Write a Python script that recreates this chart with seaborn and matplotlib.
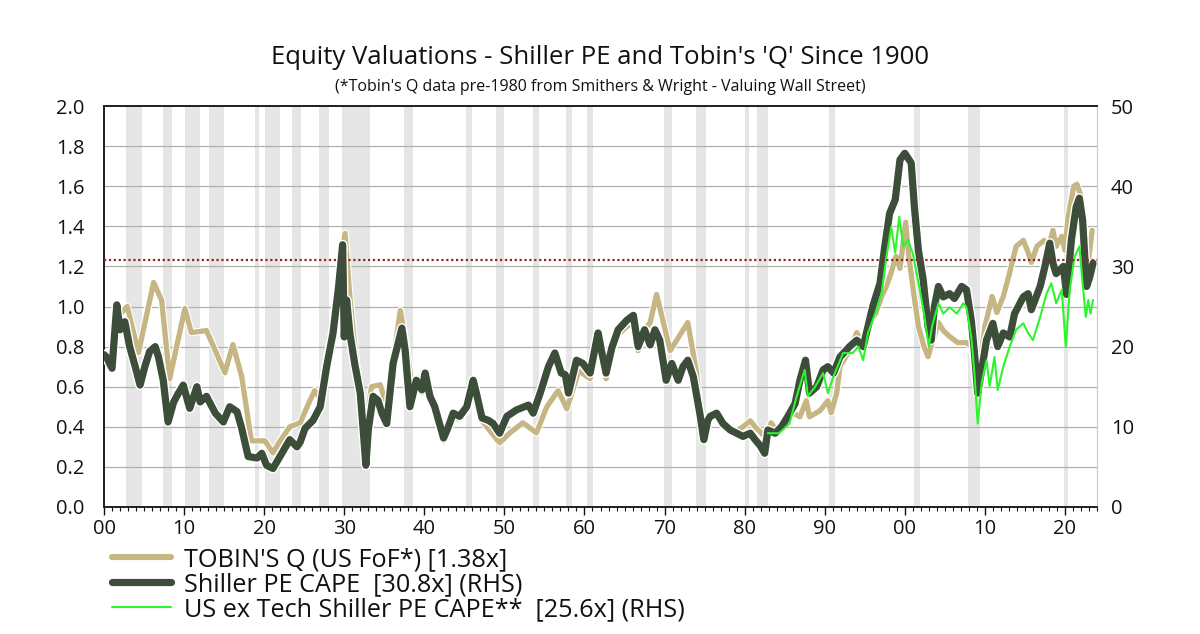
import numpy as np
import pandas as pd
import matplotlib
matplotlib.use("Agg")
import matplotlib.pyplot as plt
import matplotlib.patheffects as pe
from matplotlib.lines import Line2D
import seaborn as sns

# ---------------- data ----------------
cape_years = [1900.0, 1900.3, 1901.0, 1901.6, 1902.0, 1902.6, 1903.2, 1903.9, 1904.5, 1905.1,
              1905.7, 1906.4, 1906.8, 1907.4, 1908.0, 1908.7, 1909.3, 1909.9, 1910.7, 1911.6,
              1912.0, 1912.8, 1913.9, 1914.9, 1915.7, 1916.6, 1917.2, 1918.0, 1919.1, 1919.7,
              1920.3, 1921.1, 1922.2, 1923.2, 1924.1, 1924.5, 1925.1, 1926.1, 1927.0, 1927.8,
              1928.6, 1929.3, 1929.8, 1930.0, 1930.3, 1930.7, 1931.3, 1932.0, 1932.4, 1932.7,
              1933.0, 1933.6, 1934.2, 1934.7, 1935.3, 1936.1, 1937.2, 1937.6, 1938.2, 1939.0,
              1939.7, 1940.1, 1940.7, 1941.3, 1941.9, 1942.4, 1943.0, 1943.6, 1944.4, 1945.3,
              1946.1, 1946.5, 1947.2, 1948.0, 1948.6, 1949.4, 1950.3, 1951.5, 1953.0, 1953.6,
              1954.6, 1955.5, 1956.3, 1957.1, 1957.6, 1958.0, 1959.0, 1959.8, 1960.7, 1961.7,
              1962.1, 1962.7, 1963.4, 1964.2, 1965.3, 1966.1, 1966.7, 1967.5, 1968.2, 1968.8,
              1969.4, 1970.2, 1970.9, 1971.7, 1972.3, 1972.9, 1973.6, 1974.4, 1974.9, 1975.4,
              1975.7, 1976.5, 1977.3, 1978.2, 1979.0, 1979.8, 1980.7, 1981.3, 1981.9, 1982.5,
              1982.9, 1983.8, 1984.6, 1985.4, 1986.3, 1986.9, 1987.6, 1988.1, 1989.0, 1989.8,
              1990.4, 1991.1, 1991.9, 1993.1, 1994.0, 1994.8, 1995.4, 1996.0, 1996.9, 1997.5,
              1998.1, 1998.8, 1999.4, 2000.0, 2000.8, 2001.2, 2001.7, 2002.3, 2002.9, 2003.3,
              2003.7, 2004.2, 2004.8, 2005.6, 2006.2, 2007.1, 2007.7, 2008.3, 2008.7, 2009.1,
              2009.6, 2010.2, 2011.0, 2011.6, 2012.3, 2013.1, 2013.7, 2014.8, 2015.4, 2015.8,
              2016.9, 2017.5, 2018.1, 2018.5, 2018.9, 2019.8, 2020.2, 2020.8, 2021.4, 2021.8,
              2022.2, 2022.7, 2023.1, 2023.5]
cape_values = [19.0, 18.7, 17.3, 25.2, 22.1, 23.1, 20.0, 17.5, 15.2, 17.5,
               19.4, 20.0, 18.7, 15.8, 10.6, 13.1, 14.2, 15.2, 12.3, 15.0,
               13.1, 13.8, 11.7, 10.6, 12.5, 11.9, 9.8, 6.3, 6.1, 6.7,
               5.2, 4.8, 6.7, 8.4, 7.5, 8.1, 9.8, 10.8, 12.5, 17.5,
               21.7, 27.5, 32.7, 21.2, 25.8, 21.7, 17.9, 14.2, 9.2, 5.2,
               9.6, 13.8, 13.3, 11.7, 10.4, 17.9, 22.3, 19.6, 12.5, 15.8,
               14.6, 16.7, 13.8, 12.5, 10.4, 8.6, 10.0, 11.7, 11.3, 12.5,
               15.8, 14.2, 11.1, 10.8, 10.4, 9.2, 11.3, 12.1, 12.7, 11.7,
               14.6, 17.5, 19.2, 16.7, 16.5, 14.2, 18.3, 17.9, 16.7, 21.7,
               19.6, 16.7, 19.8, 22.1, 23.3, 23.9, 20.0, 22.1, 20.2, 22.1,
               20.8, 15.8, 17.9, 15.8, 17.5, 18.3, 16.2, 11.7, 8.4, 10.8,
               11.3, 11.7, 10.4, 9.6, 9.2, 8.8, 9.2, 8.4, 7.7, 6.7,
               9.6, 9.2, 10.0, 11.3, 12.9, 15.8, 18.3, 14.2, 15.0, 17.1,
               17.5, 16.7, 18.7, 20.0, 20.8, 20.0, 22.5, 25.0, 27.9, 32.5,
               36.6, 38.3, 43.3, 44.1, 42.9, 37.4, 32.0, 28.3, 22.5, 20.8,
               25.0, 27.5, 26.2, 26.6, 26.0, 27.5, 27.1, 23.3, 19.2, 14.2,
               17.1, 20.8, 22.9, 20.0, 21.7, 21.2, 24.1, 26.2, 26.6, 24.6,
               27.5, 30.0, 32.9, 30.4, 29.1, 30.0, 26.5, 33.3, 37.4, 38.5,
               35.8, 27.5, 28.7, 30.4]

tobin_years = [1902.2, 1902.9, 1904.3, 1906.2, 1907.2, 1908.2, 1910.1, 1910.9, 1912.8, 1915.1,
               1916.1, 1917.2, 1918.4, 1920.1, 1921.1, 1922.0, 1923.2, 1924.5, 1925.7, 1926.3,
               1927.0, 1927.8, 1928.6, 1929.3, 1930.1, 1930.7, 1931.5, 1932.4, 1932.7, 1933.4,
               1934.5, 1935.3, 1937.0, 1937.8, 1938.4, 1939.0, 1939.7, 1940.1, 1940.7, 1941.3,
               1942.4, 1943.6, 1944.4, 1945.3, 1946.1, 1947.2, 1948.2, 1949.4, 1950.7, 1952.3,
               1954.0, 1955.3, 1956.7, 1957.8, 1959.3, 1960.7, 1961.7, 1962.7, 1963.4, 1964.2,
               1965.3, 1966.1, 1966.7, 1967.5, 1968.2, 1969.0, 1970.7, 1972.9, 1974.0, 1974.6,
               1975.4, 1975.7, 1976.5, 1977.3, 1978.2, 1979.0, 1979.8, 1980.7, 1981.3, 1982.3,
               1982.8, 1983.3, 1984.0, 1985.0, 1986.0, 1986.9, 1987.7, 1988.1, 1989.4, 1990.4,
               1990.8, 1991.5, 1991.9, 1993.1, 1994.0, 1994.8, 1995.8, 1996.4, 1997.1, 1997.7,
               1998.3, 1998.9, 1999.4, 2000.1, 2000.5, 2001.1, 2001.7, 2002.4, 2002.9, 2003.5,
               2004.2, 2004.8, 2005.6, 2006.6, 2007.7, 2008.3, 2009.1, 2010.0, 2010.9, 2011.5,
               2012.3, 2013.1, 2013.9, 2014.8, 2015.4, 2015.8, 2016.5, 2017.4, 2018.0, 2018.5,
               2018.9, 2019.6, 2020.0, 2020.4, 2021.1, 2021.5, 2022.0, 2022.4, 2022.7, 2023.0,
               2023.4]
tobin_values = [0.97, 1.00, 0.77, 1.12, 1.03, 0.64, 0.99, 0.87, 0.88, 0.67,
                0.81, 0.65, 0.33, 0.33, 0.27, 0.33, 0.40, 0.42, 0.53, 0.58,
                0.54, 0.74, 0.90, 1.15, 1.365, 1.05, 0.73, 0.43, 0.40, 0.60,
                0.61, 0.50, 0.98, 0.80, 0.62, 0.60, 0.57, 0.62, 0.54, 0.48,
                0.33, 0.44, 0.44, 0.48, 0.60, 0.43, 0.38, 0.32, 0.37, 0.42,
                0.37, 0.50, 0.58, 0.49, 0.68, 0.64, 0.84, 0.64, 0.76, 0.86,
                0.90, 0.93, 0.78, 0.88, 0.92, 1.06, 0.78, 0.92, 0.67, 0.40,
                0.42, 0.45, 0.47, 0.42, 0.38, 0.38, 0.40, 0.43, 0.40, 0.36,
                0.34, 0.42, 0.38, 0.42, 0.47, 0.45, 0.53, 0.45, 0.48, 0.53,
                0.47, 0.57, 0.70, 0.78, 0.87, 0.80, 0.93, 0.97, 1.05, 1.10,
                1.17, 1.25, 1.19, 1.42, 1.25, 1.07, 0.90, 0.80, 0.75, 0.83,
                0.92, 0.88, 0.85, 0.82, 0.82, 0.80, 0.62, 0.90, 1.05, 0.97,
                1.05, 1.17, 1.30, 1.33, 1.27, 1.22, 1.30, 1.33, 1.30, 1.38,
                1.30, 1.35, 1.28, 1.45, 1.60, 1.61, 1.55, 1.33, 1.10, 1.25,
                1.38]

extech_years = [1982.9, 1984.3, 1985.6, 1986.5, 1987.5, 1987.9, 1988.8, 1989.8, 1990.4, 1991.1,
                1992.3, 1993.5, 1994.2, 1994.8, 1995.4, 1996.3, 1997.1, 1997.7, 1998.3, 1998.8,
                1999.3, 1999.8, 2000.4, 2001.0, 2001.8, 2002.4, 2003.0, 2003.4, 2004.2, 2004.8,
                2005.6, 2006.5, 2007.3, 2007.7, 2008.3, 2008.7, 2009.1, 2009.6, 2010.2, 2010.6,
                2011.2, 2011.6, 2012.3, 2013.1, 2013.9, 2014.8, 2015.4, 2016.0, 2016.9, 2017.7,
                2018.3, 2018.9, 2019.6, 2020.1, 2020.6, 2021.2, 2021.8, 2022.2, 2022.6, 2022.9,
                2023.2, 2023.5]
extech_values = [9.2, 9.2, 10.4, 13.8, 17.1, 13.8, 15.0, 16.7, 14.2, 16.3,
                 19.2, 19.2, 20.0, 18.3, 21.7, 24.1, 26.6, 31.2, 34.9, 31.7,
                 36.2, 32.5, 33.3, 31.6, 27.5, 24.1, 20.0, 22.5, 25.4, 24.1,
                 24.9, 24.1, 25.4, 24.9, 21.2, 16.6, 10.4, 15.5, 18.3, 15.1,
                 18.7, 14.6, 17.5, 20.0, 22.1, 22.9, 21.7, 20.8, 23.7, 26.6,
                 27.9, 25.4, 27.1, 20.0, 27.1, 31.2, 32.5, 27.9, 23.7, 25.8,
                 24.1, 25.8]

recession_start = [1902.75, 1907.4, 1910.1, 1913.1, 1918.8, 1920.1, 1923.5, 1926.8, 1929.7, 1937.4,
                   1945.2, 1949.0, 1953.6, 1957.7, 1960.3, 1969.9, 1973.9, 1980.0, 1981.5, 1990.5,
                   2001.1, 2007.9, 2019.9]
recession_end = [1904.7, 1908.5, 1912.0, 1915.0, 1919.4, 1922.0, 1924.6, 1928.1, 1933.2, 1938.6,
                 1945.9, 1949.9, 1954.3, 1958.4, 1961.1, 1970.9, 1975.2, 1980.5, 1982.9, 1991.3,
                 2001.9, 2009.4, 2020.4]

reference_level = 1.23
x_tick_years = list(range(1900, 2021, 10))
x_tick_labels = ["00", "10", "20", "30", "40", "50", "60", "70", "80", "90", "00", "10", "20"]

labels = ["TOBIN'S Q (US FoF*) [1.38x]",
          "Shiller PE CAPE  [30.8x] (RHS)",
          "US ex Tech Shiller PE CAPE**  [25.6x] (RHS)"]

# ---------------- style ----------------
sns.set_style("white")
plt.rcParams['font.family'] = ['Open Sans', 'DejaVu Sans']
plt.rcParams['text.color'] = '#111111'
plt.rcParams['xtick.color'] = '#111111'
plt.rcParams['ytick.color'] = '#111111'
plt.rcParams['xtick.labelcolor'] = '#111111'
plt.rcParams['ytick.labelcolor'] = '#111111'

TAN = "#c5b684"
DARK = "#3c4d39"
GREEN = "#2cf52c"

W, H = 1200, 634
fig = plt.figure(figsize=(W / 100, H / 100), dpi=100)
ax = fig.add_axes([104 / W, 1 - 507 / H, (1097 - 104) / W, (507 - 106) / H])
ax2 = ax.twinx()

# recession shading
for s, e in zip(recession_start, recession_end):
    ax.axvspan(s, e, color="#e6e6e6", lw=0, zorder=0)

# grid
for yv in np.arange(0.2, 2.0, 0.2):
    ax.axhline(yv, color="#b0b0b0", lw=0.9, zorder=1)

white_edge = [pe.Stroke(linewidth=7.2, foreground="white"), pe.Normal()]
white_edge2 = [pe.Stroke(linewidth=5.4, foreground="white"), pe.Normal()]

tobin_df = pd.DataFrame({"year": tobin_years, "q": tobin_values})
cape_df = pd.DataFrame({"year": cape_years, "cape": cape_values})
ext_df = pd.DataFrame({"year": extech_years, "cape": extech_values})

sns.lineplot(data=tobin_df, x="year", y="q", ax=ax, color=TAN, lw=3.8, legend=False, zorder=3)
ax.lines[-1].set_path_effects(white_edge2)

sns.lineplot(data=cape_df, x="year", y="cape", ax=ax2, color=DARK, lw=5.2, legend=False, zorder=3)
ax2.lines[-1].set_path_effects(white_edge)
sns.lineplot(data=ext_df, x="year", y="cape", ax=ax2, color=GREEN, lw=1.5, legend=False, zorder=4)

# dotted reference line on top
ax2.axhline(reference_level * 25, color="#8e2626", lw=1.6, ls=(0, (1, 1.2)), zorder=6)

ax.set_zorder(1)
ax2.set_zorder(2)
ax2.patch.set_visible(False)
ax.patch.set_visible(True)

ax.set_xlim(1900, 2024)
ax.set_ylim(0, 2.0)
ax2.set_ylim(0, 50)
ax.set_yticks(np.arange(0, 2.01, 0.2))
ax.set_yticklabels([f"{v:.1f}" for v in np.arange(0, 2.01, 0.2)])
ax2.set_yticks(range(0, 51, 10))
ax.set_xticks(x_tick_years)
ax.set_xticklabels(x_tick_labels)
ax.set_xticks(range(1900, 2025), minor=True)
ax.set_xlabel("")
ax.set_ylabel("")
ax2.set_ylabel("")

ax.tick_params(axis="x", which="major", direction="out", length=6, width=1, labelsize=14.5,
               pad=3, bottom=True)
ax.tick_params(axis="x", which="minor", direction="out", length=3, width=0.8, bottom=True)
ax.tick_params(axis="y", length=0, labelsize=14.5, pad=14)
ax2.tick_params(axis="y", length=0, labelsize=14.5, pad=10)

for a in (ax, ax2):
    for side in ("left", "bottom", "top"):
        a.spines[side].set_color("#222222")
        a.spines[side].set_linewidth(1.3)
    a.spines["right"].set_color("#cccccc")
    a.spines["right"].set_linewidth(0.8)

fig.text(0.5, 1 - 58 / H, "Equity Valuations - Shiller PE and Tobin's 'Q' Since 1900",
         ha="center", va="center", fontsize=18.5)
fig.text(0.5, 1 - 87 / H, "(*Tobin's Q data pre-1980 from Smithers & Wright - Valuing Wall Street)",
         ha="center", va="center", fontsize=11.5)

handles = [Line2D([], [], color=TAN, lw=4.4),
           Line2D([], [], color=DARK, lw=5.2),
           Line2D([], [], color=GREEN, lw=1.5)]
fig.legend(handles, labels, loc="upper left", bbox_to_anchor=(112 / W, 1 - 547 / H),
           frameon=False, fontsize=18.2, handlelength=2.35, handletextpad=0.5,
           labelspacing=0.0, borderpad=0, borderaxespad=0)

fig.savefig("out.png", dpi=100, facecolor="white")
